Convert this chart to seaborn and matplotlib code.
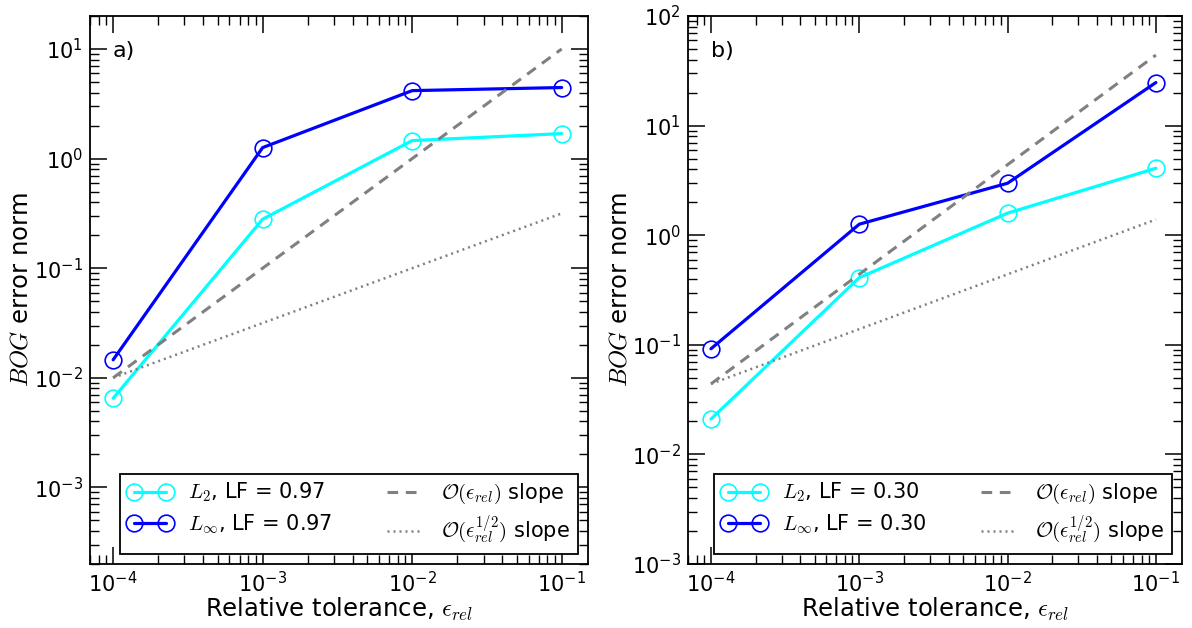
import numpy as np
import pandas as pd
import matplotlib
matplotlib.use("Agg")
import matplotlib.pyplot as plt
import seaborn as sns
from matplotlib.lines import Line2D

# ---------------- data ----------------
tol = [1e-4, 1e-3, 1e-2, 1e-1]

a_l2 = [0.0065, 0.28, 1.46, 1.69]
a_linf = [0.0146, 1.26, 4.17, 4.45]
a_lf = "0.97"

b_l2 = [0.021, 0.41, 1.59, 4.08]
b_linf = [0.092, 1.26, 2.98, 24.7]
b_lf = "0.30"

slope_x = [1e-4, 1e-1]
a_order1 = [0.01, 10.0]
a_order_half = [0.01, 0.316]
b_order1 = [0.044, 44.0]
b_order_half = [0.044, 1.39]

panel_labels = ["a)", "b)"]
ylims = [(2e-4, 20), (1e-3, 100)]

# ---------------- style ----------------
sns.set_theme(style="ticks")
plt.rcParams["font.family"] = ["DejaVu Sans"]
plt.rcParams["mathtext.fontset"] = "cm"
plt.rcParams["axes.unicode_minus"] = False
plt.rcParams["axes.linewidth"] = 1.3
plt.rcParams["axes.edgecolor"] = "black"
plt.rcParams["text.color"] = "black"
plt.rcParams["axes.labelcolor"] = "black"
plt.rcParams["xtick.color"] = "black"
plt.rcParams["ytick.color"] = "black"

CYAN = "#00FFFF"
BLUE = "#0000FF"
GREY = "#808080"
FS_TICK = 15
FS_LABEL = 17.5
FS_LEG = 15

fig = plt.figure(figsize=(11.92, 6.28), dpi=100)
W, H = 1192, 628
boxes = [(90, 16, 588, 564), (688, 16, 1182, 564)]

panels = [
    (a_l2, a_linf, a_lf, a_order1, a_order_half),
    (b_l2, b_linf, b_lf, b_order1, b_order_half),
]

DASH = (0, (3.5, 2.5))
DOT = (0, (0.8, 1.6))

for i, ((l2, linf, lf, o1, oh), (x0, y0, x1, y1)) in enumerate(zip(panels, boxes)):
    ax = fig.add_axes([x0 / W, 1 - y1 / H, (x1 - x0) / W, (y1 - y0) / H])
    ax.set_xscale("log")
    ax.set_yscale("log")

    mk = dict(marker="o", markersize=12, markerfacecolor="none", markeredgewidth=1.2)
    sns.lineplot(x=tol, y=l2, ax=ax, color=CYAN, linewidth=2.3,
                 markeredgecolor=CYAN, **mk)
    sns.lineplot(x=tol, y=linf, ax=ax, color=BLUE, linewidth=2.3,
                 markeredgecolor=BLUE, **mk)
    sns.lineplot(x=slope_x, y=o1, ax=ax, color=GREY, linewidth=2.2, linestyle=DASH)
    sns.lineplot(x=slope_x, y=oh, ax=ax, color=GREY, linewidth=1.8, linestyle=DOT)

    ax.set_xlim(7e-5, 0.15)
    ax.set_ylim(*ylims[i])

    ax.tick_params(axis="both", which="major", direction="in", length=12,
                   width=1.1, top=True, right=True, labelsize=FS_TICK, pad=5)
    ax.tick_params(axis="both", which="minor", direction="in", length=6.5,
                   width=1.0, top=True, right=True)
    ax.set_xticks(tol)
    ax.set_xlabel(r"Relative tolerance, $\epsilon_{rel}$", fontsize=FS_LABEL)
    ax.set_ylabel(r"$BOG$ error norm", fontsize=FS_LABEL)
    ax.xaxis.set_label_coords(0.5, -0.058)
    ax.yaxis.set_label_coords(-0.115, 0.5)

    ax.text(0.046, 0.936, panel_labels[i], transform=ax.transAxes,
            fontsize=16, ha="left", va="center")

    handles = [
        Line2D([], [], color=CYAN, linewidth=2.3, markeredgecolor=CYAN, **mk),
        Line2D([], [], color=BLUE, linewidth=2.3, markeredgecolor=BLUE, **mk),
        Line2D([], [], color=GREY, linewidth=2.2, linestyle=DASH),
        Line2D([], [], color=GREY, linewidth=1.8, linestyle=DOT),
    ]
    labels = [
        r"$L_2$, LF = " + lf,
        r"$L_\infty$, LF = " + lf,
        r"$\mathcal{O}(\epsilon_{rel})$ slope",
        r"$\mathcal{O}(\epsilon_{rel}^{1/2})$ slope",
    ]
    leg = ax.legend(handles, labels, loc="lower right", ncol=2, numpoints=2,
                    fontsize=FS_LEG, fancybox=False, frameon=True, framealpha=1,
                    edgecolor="black", borderaxespad=0.5, borderpad=0.35,
                    handlelength=2.14, handletextpad=0.77, columnspacing=2.3,
                    labelspacing=0.4)
    leg.get_frame().set_linewidth(1.3)

fig.savefig("out.png", dpi=100)
